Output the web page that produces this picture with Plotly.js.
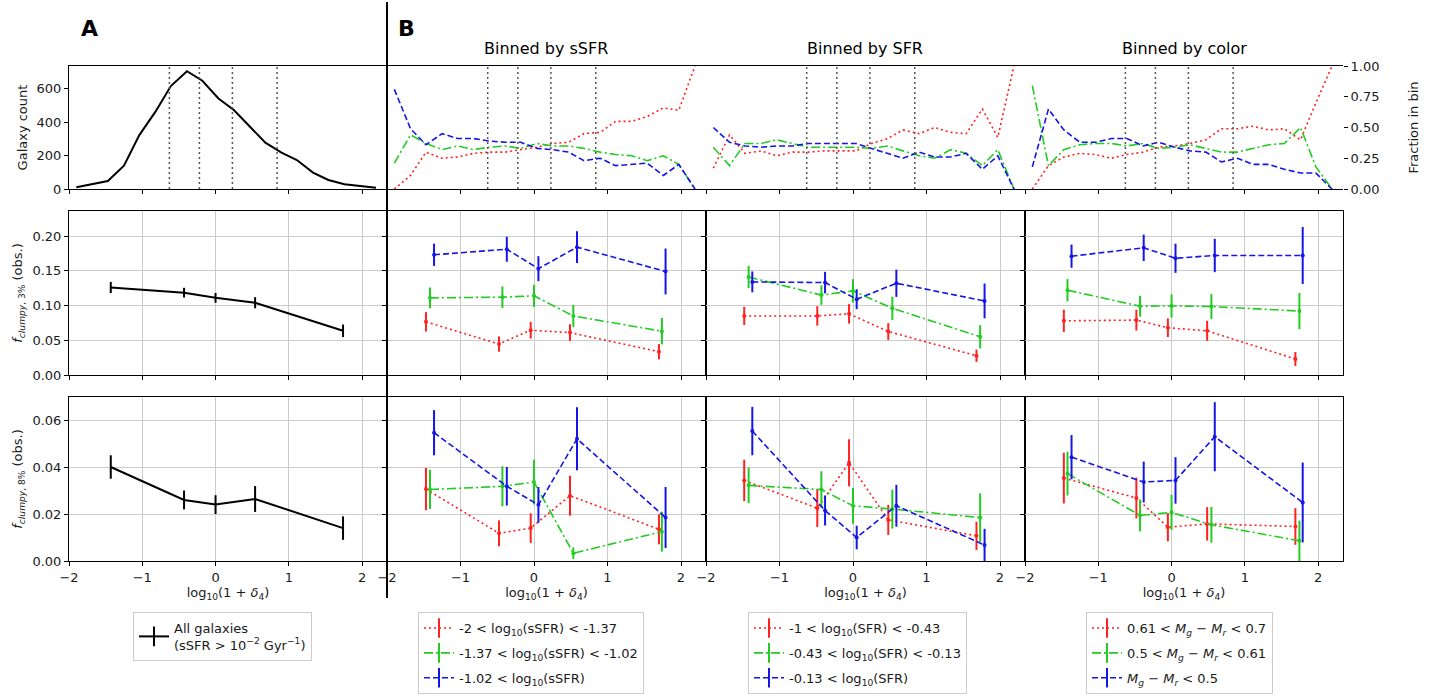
<!DOCTYPE html>
<html><head><meta charset="utf-8">
<script src="https://cdn.plot.ly/plotly-3.0.1.min.js"></script>
<style>html,body{margin:0;padding:0;background:#fff;} #chart{width:1429px;height:696px;}</style>
</head><body><div id="chart"></div>
<script>
// ---------------- DATA ----------------
const binCenters = [-1.9,-1.68,-1.47,-1.25,-1.04,-0.82,-0.61,-0.39,-0.18,0.04,0.25,0.47,0.68,0.90,1.11,1.33,1.54,1.76,1.97,2.19];
const galaxyCount = [10,30,48,139,322,462,615,704,647,541,472,372,277,217,173,98,54,28,20,8];
const binEdges = [-0.63,-0.22,0.23,0.84];

const fracSSFR_red   = [0.0,0.11,0.30,0.25,0.26,0.29,0.30,0.30,0.32,0.34,0.37,0.38,0.45,0.46,0.55,0.55,0.59,0.66,0.64,1.0];
const fracSSFR_green = [0.21,0.44,0.37,0.32,0.35,0.32,0.34,0.35,0.33,0.37,0.35,0.35,0.33,0.30,0.28,0.27,0.23,0.27,0.20,0.0];
const fracSSFR_blue  = [0.81,0.49,0.36,0.45,0.41,0.41,0.39,0.38,0.38,0.33,0.32,0.30,0.23,0.25,0.19,0.20,0.21,0.11,0.20,0.0];

const fracSFR_red   = [0.17,0.44,0.29,0.31,0.27,0.30,0.30,0.31,0.31,0.31,0.37,0.41,0.48,0.45,0.50,0.46,0.45,0.65,0.42,1.0];
const fracSFR_green = [0.34,0.19,0.37,0.37,0.40,0.37,0.34,0.34,0.34,0.34,0.33,0.35,0.31,0.27,0.25,0.32,0.29,0.19,0.32,0.0];
const fracSFR_blue  = [0.50,0.38,0.35,0.34,0.35,0.35,0.37,0.37,0.37,0.37,0.33,0.29,0.25,0.30,0.26,0.26,0.29,0.16,0.27,0.0];

const fracColor_red   = [0.0,0.19,0.26,0.29,0.28,0.25,0.28,0.30,0.34,0.35,0.37,0.40,0.49,0.49,0.51,0.48,0.49,0.40,0.70,1.0];
const fracColor_green = [0.84,0.19,0.32,0.36,0.37,0.37,0.35,0.37,0.33,0.34,0.36,0.33,0.30,0.30,0.33,0.36,0.37,0.50,0.18,0.0];
const fracColor_blue  = [0.18,0.65,0.48,0.38,0.38,0.41,0.41,0.35,0.38,0.34,0.31,0.30,0.22,0.25,0.20,0.20,0.16,0.13,0.13,0.0];

// All galaxies
const xAll = [-1.43,-0.43,0.0,0.54,1.74];
const f3All = [0.126,0.1185,0.111,0.104,0.0636];
const f3AllErr = [0.008,0.007,0.007,0.008,0.009];
const f8All = [0.040,0.026,0.024,0.0264,0.014];
const f8AllErr = [0.005,0.004,0.004,0.0055,0.005];

// Binned by sSFR
const xSSFR_red   = [-1.47,-0.476,-0.045,0.49,1.70];
const xSSFR_green = [-1.415,-0.43,0.0,0.535,1.74];
const xSSFR_blue  = [-1.36,-0.37,0.06,0.585,1.79];
const f3SSFR_red = [0.0765,0.0445,0.0645,0.061,0.0335],  f3SSFR_redErr = [0.014,0.011,0.012,0.012,0.011];
const f3SSFR_green = [0.111,0.112,0.114,0.085,0.063],    f3SSFR_greenErr = [0.015,0.0155,0.016,0.016,0.019];
const f3SSFR_blue = [0.173,0.181,0.153,0.184,0.149],     f3SSFR_blueErr = [0.016,0.018,0.018,0.023,0.033];
const f8SSFR_red = [0.0306,0.0118,0.014,0.0278,0.0135],  f8SSFR_redErr = [0.009,0.0055,0.0063,0.0085,0.0064];
const f8SSFR_green = [0.0304,0.0318,0.0336,0.0033,0.0125], f8SSFR_greenErr = [0.0083,0.0085,0.0095,0.0025,0.0085];
const f8SSFR_blue = [0.0546,0.0318,0.0239,0.052,0.0185], f8SSFR_blueErr = [0.0096,0.0082,0.0076,0.0134,0.013];

// Binned by SFR
const xSFR_red   = [-1.48,-0.486,-0.054,0.48,1.68];
const xSFR_green = [-1.42,-0.43,0.0,0.535,1.73];
const xSFR_blue  = [-1.37,-0.38,0.05,0.59,1.79];
const f3SFR_red = [0.085,0.085,0.088,0.0626,0.0277],     f3SFR_redErr = [0.013,0.014,0.014,0.012,0.0088];
const f3SFR_green = [0.141,0.115,0.121,0.096,0.055],     f3SFR_greenErr = [0.016,0.014,0.0167,0.0167,0.0167];
const f3SFR_blue = [0.134,0.133,0.109,0.132,0.1066],     f3SFR_blueErr = [0.015,0.0155,0.0143,0.0196,0.025];
const f8SFR_red = [0.0343,0.0225,0.0418,0.0175,0.0107],  f8SFR_redErr = [0.0088,0.008,0.01,0.0064,0.006];
const f8SFR_green = [0.0322,0.0304,0.0235,0.0221,0.0185], f8SFR_greenErr = [0.0076,0.0078,0.0076,0.0083,0.0103];
const f8SFR_blue = [0.0553,0.0215,0.01,0.0235,0.0068],   f8SFR_blueErr = [0.0103,0.0064,0.005,0.0089,0.0069];

// Binned by color
const xColor_red   = [-1.47,-0.48,-0.05,0.486,1.69];
const xColor_green = [-1.42,-0.43,0.0,0.544,1.745];
const xColor_blue  = [-1.365,-0.38,0.054,0.59,1.79];
const f3Color_red = [0.078,0.079,0.068,0.0636,0.023],    f3Color_redErr = [0.016,0.015,0.0134,0.0143,0.010];
const f3Color_green = [0.122,0.099,0.0994,0.0985,0.092], f3Color_greenErr = [0.016,0.015,0.0167,0.018,0.026];
const f3Color_blue = [0.171,0.183,0.168,0.172,0.172],    f3Color_blueErr = [0.0167,0.019,0.021,0.024,0.041];
const f8Color_red = [0.0353,0.0268,0.0144,0.0158,0.0147], f8Color_redErr = [0.0108,0.0087,0.006,0.0071,0.0078];
const f8Color_green = [0.0372,0.0194,0.0207,0.0154,0.0086], f8Color_greenErr = [0.0093,0.0068,0.0075,0.0076,0.0086];
const f8Color_blue = [0.0442,0.0336,0.0343,0.0529,0.0249], f8Color_blueErr = [0.0094,0.0087,0.0099,0.0147,0.017];

const legendAll = 'All galaxies<br>(sSFR &gt; 10<sup>−2</sup> Gyr<sup>−1</sup>)';
const legendSSFR = ['-2 &lt; log<sub>10</sub>(sSFR) &lt; -1.37','-1.37 &lt; log<sub>10</sub>(sSFR) &lt; -1.02','-1.02 &lt; log<sub>10</sub>(sSFR)'];
const legendSFR = ['-1 &lt; log<sub>10</sub>(SFR) &lt; -0.43','-0.43 &lt; log<sub>10</sub>(SFR) &lt; -0.13','-0.13 &lt; log<sub>10</sub>(SFR)'];
const legendColor = ['0.61 &lt; <i>M<sub>g</sub></i> − <i>M<sub>r</sub></i> &lt; 0.7','0.5 &lt; <i>M<sub>g</sub></i> − <i>M<sub>r</sub></i> &lt; 0.61','<i>M<sub>g</sub></i> − <i>M<sub>r</sub></i> &lt; 0.5'];

// ---------------- STYLE / LAYOUT ----------------
const W = 1429, H = 696;
const FONT = 'DejaVu Sans, Verdana, sans-serif';
const TXT = '#1a1a1a';
const COLORS = {red:'#ff2020', green:'#22cc22', blue:'#1515e8', black:'#000000'};
const DASH = {red:'2px,3px', green:'9px,3px,2px,3px', blue:'6px,3px', black:'solid'};
const colPx = [[69,387],[387,706],[706,1025],[1025,1343]];
const rowPx = [[66,189],[211,375],[397,561]];
const rowRanges = [[0,735],[0,0.236],[0,0.0698]];
const rowTicks = [[0,200,400,600],[0,0.05,0.1,0.15,0.2],[0,0.02,0.04,0.06]];
const sfx = i => (i === 1 ? '' : String(i));
const topDomain = [1-rowPx[0][1]/H, 1-rowPx[0][0]/H];

const traces = [];
function addLine(ax, ay, x, y, col, width) {
  traces.push({type:'scatter', mode:'lines', x, y, xaxis:ax, yaxis:ay, showlegend:false,
    line:{color:COLORS[col], width:width||1.6, dash:DASH[col]}, hoverinfo:'skip'});
}
function addErr(ax, ay, x, y, err, col) {
  traces.push({type:'scatter', mode: col==='black' ? 'lines' : 'lines+markers', x, y, xaxis:ax, yaxis:ay, showlegend:false,
    line:{color:COLORS[col], width: col==='black'?2:1.6, dash:DASH[col]},
    marker:{color:COLORS[col], size:4},
    error_y:{type:'data', array:err, visible:true, color:COLORS[col], thickness:2, width:0}, hoverinfo:'skip'});
}
function addLegend(leg, name, col) {
  traces.push({type:'scatter', mode:'lines+markers', x:[null], y:[null], xaxis:'x', yaxis:'y', name,
    legend:leg, legendgroup:leg+name, showlegend:true,
    line:{color:COLORS[col], width: col==='black'?2:1.6, dash:DASH[col]},
    marker:{symbol:'line-ns-open', size:14, line:{color:COLORS[col], width:2}, color:COLORS[col]}});
}

// Top row
addLine('x','y', binCenters, galaxyCount, 'black', 2);
[[2,13,fracSSFR_red,fracSSFR_green,fracSSFR_blue],[3,14,fracSFR_red,fracSFR_green,fracSFR_blue],[4,15,fracColor_red,fracColor_green,fracColor_blue]]
.forEach(([i,yi,r,g,b]) => {
  addLine('x'+i,'y'+yi, binCenters, r, 'red');
  addLine('x'+i,'y'+yi, binCenters, g, 'green');
  addLine('x'+i,'y'+yi, binCenters, b, 'blue');
});
// Middle row
addErr('x5','y5', xAll, f3All, f3AllErr, 'black');
addErr('x6','y6', xSSFR_red, f3SSFR_red, f3SSFR_redErr, 'red');
addErr('x6','y6', xSSFR_green, f3SSFR_green, f3SSFR_greenErr, 'green');
addErr('x6','y6', xSSFR_blue, f3SSFR_blue, f3SSFR_blueErr, 'blue');
addErr('x7','y7', xSFR_red, f3SFR_red, f3SFR_redErr, 'red');
addErr('x7','y7', xSFR_green, f3SFR_green, f3SFR_greenErr, 'green');
addErr('x7','y7', xSFR_blue, f3SFR_blue, f3SFR_blueErr, 'blue');
addErr('x8','y8', xColor_red, f3Color_red, f3Color_redErr, 'red');
addErr('x8','y8', xColor_green, f3Color_green, f3Color_greenErr, 'green');
addErr('x8','y8', xColor_blue, f3Color_blue, f3Color_blueErr, 'blue');
// Bottom row
addErr('x9','y9', xAll, f8All, f8AllErr, 'black');
addErr('x10','y10', xSSFR_red, f8SSFR_red, f8SSFR_redErr, 'red');
addErr('x10','y10', xSSFR_green, f8SSFR_green, f8SSFR_greenErr, 'green');
addErr('x10','y10', xSSFR_blue, f8SSFR_blue, f8SSFR_blueErr, 'blue');
addErr('x11','y11', xSFR_red, f8SFR_red, f8SFR_redErr, 'red');
addErr('x11','y11', xSFR_green, f8SFR_green, f8SFR_greenErr, 'green');
addErr('x11','y11', xSFR_blue, f8SFR_blue, f8SFR_blueErr, 'blue');
addErr('x12','y12', xColor_red, f8Color_red, f8Color_redErr, 'red');
addErr('x12','y12', xColor_green, f8Color_green, f8Color_greenErr, 'green');
addErr('x12','y12', xColor_blue, f8Color_blue, f8Color_blueErr, 'blue');
// Legends
addLegend('legend', legendAll, 'black');
['red','green','blue'].forEach((c,k) => addLegend('legend2', legendSSFR[k], c));
['red','green','blue'].forEach((c,k) => addLegend('legend3', legendSFR[k], c));
['red','green','blue'].forEach((c,k) => addLegend('legend4', legendColor[k], c));

const layout = {
  width:W, height:H, margin:{l:0,r:0,t:0,b:0}, paper_bgcolor:'#ffffff', plot_bgcolor:'rgba(0,0,0,0)',
  font:{family:FONT, size:13, color:TXT}, showlegend:true, shapes:[], annotations:[], hovermode:false
};
for (let r = 0; r < 3; r++) for (let c = 0; c < 4; c++) {
  const i = r*4 + c + 1, s = sfx(i);
  layout['xaxis'+s] = {domain:[colPx[c][0]/W, colPx[c][1]/W], range:[-2,2.34], anchor:'y'+s,
    tickmode:'array', tickvals:[-2,-1,0,1,2], ticks:'outside', ticklen:4, tickcolor:'#000', tickwidth:1,
    showticklabels: r===2, tickfont:{size:13, color:TXT}, showline:true, mirror:true, linecolor:'#000', linewidth:1,
    showgrid: r>0, gridcolor:'#cccccc', gridwidth:1, zeroline:false};
  layout['yaxis'+s] = {domain:[1-rowPx[r][1]/H, 1-rowPx[r][0]/H], range:rowRanges[r], anchor:'x'+s,
    tickmode:'array', tickvals:rowTicks[r], tickformat: r===0 ? 'd' : '.2f', ticks:'outside', ticklen:4, tickcolor:'#000',
    showticklabels: c===0, tickfont:{size:13, color:TXT}, showline:true, mirror:true, linecolor:'#000', linewidth:1,
    showgrid: r>0, gridcolor:'#cccccc', gridwidth:1, zeroline:false};
  if (r === 0) binEdges.forEach(e => layout.shapes.push({type:'line', xref:'x'+s, yref:'paper',
    x0:e, x1:e, y0:topDomain[0], y1:topDomain[1], line:{color:'#555', width:1.5, dash:'2px,3px'}, layer:'above'}));
  if (r === 2) layout['xaxis'+s].title = {text:'log<sub>10</sub>(1 + <i>δ</i><sub>4</sub>)', font:{size:13, color:TXT}, standoff:4};
}
layout.yaxis.title = {text:'Galaxy count', font:{size:13, color:TXT}, standoff:6};
layout.yaxis5.title = {text:'<i>f</i><sub><i>clumpy</i>, 3%</sub> (obs.)', font:{size:13, color:TXT}, standoff:6};
layout.yaxis9.title = {text:'<i>f</i><sub><i>clumpy</i>, 8%</sub> (obs.)', font:{size:13, color:TXT}, standoff:6};
layout.yaxis13 = {overlaying:'y2', anchor:'x2', domain:topDomain, range:[0,1], showticklabels:false, ticks:'', showgrid:false, zeroline:false, showline:false};
layout.yaxis14 = {overlaying:'y3', anchor:'x3', domain:topDomain, range:[0,1], showticklabels:false, ticks:'', showgrid:false, zeroline:false, showline:false};
layout.yaxis15 = {overlaying:'y4', anchor:'x4', domain:topDomain, side:'right', range:[0,1], tickmode:'array', tickvals:[0,0.25,0.5,0.75,1],
  tickformat:'.2f', ticks:'outside', ticklen:4, tickcolor:'#000', showgrid:false, zeroline:false, showline:false,
  tickfont:{size:13, color:TXT}, title:{text:'Fraction in bin', font:{size:13, color:TXT}, standoff:30}};

layout.shapes.push({type:'line', xref:'paper', yref:'paper', x0:387/W, x1:387/W, y0:1-2/H, y1:1-598/H, line:{color:'#000', width:2}});

const ann = (text, x, y, size, bold) => layout.annotations.push({text: bold ? '<b>'+text+'</b>' : text, xref:'paper', yref:'paper',
  x:x/W, y:1-y/H, xanchor:'center', yanchor:'middle', showarrow:false, font:{size, color:'#000', family:FONT}});
ann('A', 89, 28, 22, true);
ann('B', 406, 28, 22, true);
ann('Binned by sSFR', 546, 48, 16, false);
ann('Binned by SFR', 865, 48, 16, false);
ann('Binned by color', 1184, 48, 16, false);

const legBase = {yanchor:'top', xanchor:'left', y:1-612/H, bordercolor:'#cccccc', borderwidth:1, bgcolor:'#ffffff',
  font:{size:13, color:TXT, family:FONT}, tracegroupgap:5, itemwidth:30};
layout.legend  = Object.assign({}, legBase, {x:133/W});
layout.legend2 = Object.assign({}, legBase, {x:418/W});
layout.legend3 = Object.assign({}, legBase, {x:748/W});
layout.legend4 = Object.assign({}, legBase, {x:1086/W});

Plotly.newPlot('chart', traces, layout, {staticPlot:true, displayModeBar:false});
</script></body></html>
